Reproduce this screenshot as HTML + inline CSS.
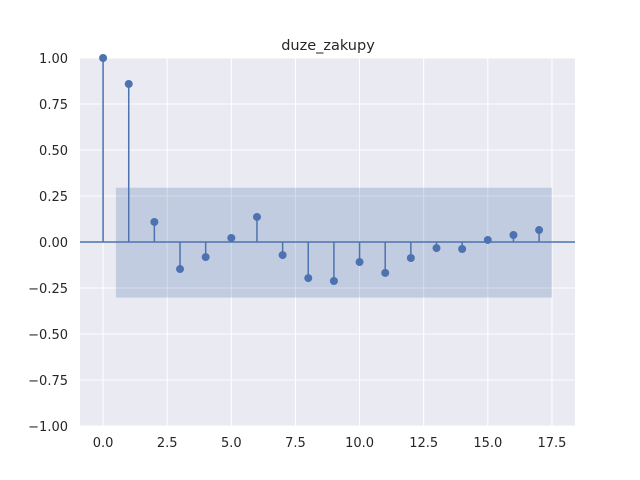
<!DOCTYPE html>
<html><head><meta charset="utf-8"><style>
body{margin:0;background:#fff}
svg{display:block;font-family:"DejaVu Sans","Liberation Sans",sans-serif}
</style></head><body>
<svg id="chart" width="640" height="480">
<rect x="80" y="58" width="495" height="368" fill="#eaeaf2"/>
<g id="grid"></g>
<g id="band"></g>
<g id="marks"></g>
<g id="ticks"></g>
<text x="328" y="50" text-anchor="middle" font-size="14.5" fill="#262626">duze_zakupy</text>
</svg>
<script>
const lags=[0,1,2,3,4,5,6,7,8,9,10,11,12,13,14,15,16,17];
const acfValues=[1.0,0.859,0.109,-0.147,-0.082,0.022,0.136,-0.071,-0.196,-0.212,-0.109,-0.168,-0.087,-0.033,-0.038,0.011,0.038,0.065];
const confUpper=[0.295];
const confLower=[-0.302];
const xTicks=[0,2.5,5,7.5,10,12.5,15,17.5];
const xTickLabels=["0.0","2.5","5.0","7.5","10.0","12.5","15.0","17.5"];
const yTicks=[-1,-0.75,-0.5,-0.25,0,0.25,0.5,0.75,1];
const yTickLabels=["\u22121.00","\u22120.75","\u22120.50","\u22120.25","0.00","0.25","0.50","0.75","1.00"];
const X0=80,X1=575,Y0=58,Y1=426,xmin=-0.9,xmax=18.4,ymin=-1,ymax=1;
const xs=v=>X0+(v-xmin)/(xmax-xmin)*(X1-X0);
const ys=v=>Y1-(v-ymin)/(ymax-ymin)*(Y1-Y0);
const NS="http://www.w3.org/2000/svg";
function mk(t,a,p){const e=document.createElementNS(NS,t);for(const k in a)e.setAttribute(k,a[k]);document.getElementById(p).appendChild(e);return e;}
xTicks.forEach((t,i)=>{
 const g=mk('line',{x1:xs(t),x2:xs(t),y1:Y0,y2:Y1,stroke:'#fff','stroke-width':1},'grid');
 
 
 const l=mk('text',{x:xs(t),y:Y1+21,'text-anchor':'middle','font-size':13,fill:'#262626'},'ticks');
 l.textContent=xTickLabels[i];
 
 
});
yTicks.forEach((t,i)=>{
 const g=mk('line',{x1:X0,x2:X1,y1:ys(t),y2:ys(t),stroke:'#fff','stroke-width':1},'grid');
 
 
 const l=mk('text',{x:X0-12,y:ys(t)+5,'text-anchor':'end','font-size':13,fill:'#262626'},'ticks');
 l.textContent=yTickLabels[i];
 
 
});
const b=mk('rect',{x:xs(0.5),y:ys(confUpper[0]),width:xs(17.5)-xs(0.5),height:ys(confLower[0])-ys(confUpper[0]),fill:'#4c72b0','fill-opacity':0.25},'band');


const z=mk('line',{x1:X0,x2:X1,y1:ys(0),y2:ys(0),stroke:'#4c72b0','stroke-width':1.5},'marks');


lags.forEach((lag,i)=>{
 const s=mk('line',{x1:xs(lag),x2:xs(lag),y1:ys(0),y2:ys(acfValues[i]),stroke:'#4c72b0','stroke-width':1.5},'marks');
 
 
 const c=mk('circle',{cx:xs(lag),cy:ys(acfValues[i]),r:4,fill:'#4c72b0'},'marks');
 
 
});
</script>
</body></html>
